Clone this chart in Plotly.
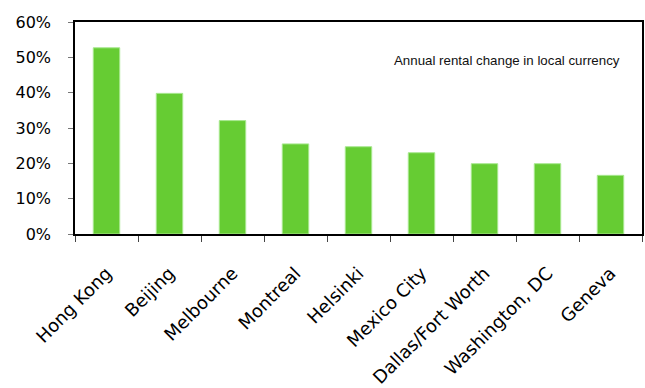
import plotly.graph_objects as go

cities = ["Hong Kong", "Beijing", "Melbourne", "Montreal", "Helsinki",
          "Mexico City", "Dallas/Fort Worth", "Washington, DC", "Geneva"]
change = [0.527, 0.398, 0.321, 0.255, 0.247, 0.230, 0.199, 0.199, 0.166]
yticks = [0, 0.1, 0.2, 0.3, 0.4, 0.5, 0.6]
ylabels = ["0%", "10%", "20%", "30%", "40%", "50%", "60%"]

fig = go.Figure(go.Bar(
    x=cities, y=change, width=0.42,
    marker=dict(color="#66CC33", line=dict(color="#A8E890", width=1)),
))

fig.update_layout(
    width=645, height=388,
    margin=dict(l=75, r=3, t=22, b=154, autoexpand=False),
    paper_bgcolor="white", plot_bgcolor="white",
    showlegend=False,
    font=dict(family="DejaVu Sans", color="#000000"),
    annotations=[dict(
        text="Annual rental change in local currency",
        xref="paper", yref="paper", x=0.762, y=0.818,
        xanchor="center", yanchor="middle",
        showarrow=False, font=dict(family="Liberation Sans", size=13.3, color="#111111"),
    )],
)
fig.update_xaxes(
    showline=True, linecolor="#000000", linewidth=1.5, mirror=True,
    ticks="outside", tickson="boundaries", ticklen=6, tickcolor="#444444",
    tickangle=-45, tickfont=dict(size=18, family="DejaVu Sans"),
    ticklabelstandoff=20, automargin=False,
    showgrid=False,
)
fig.update_yaxes(
    range=[0, 0.6], tickvals=yticks, ticktext=ylabels,
    showline=True, linecolor="#000000", linewidth=1.5, mirror=True,
    ticks="outside", ticklen=5, tickcolor="#777777",
    tickfont=dict(size=16, family="DejaVu Sans"),
    ticklabelstandoff=14, automargin=False,
    showgrid=False, zeroline=False,
)

fig.write_html("out.html")
